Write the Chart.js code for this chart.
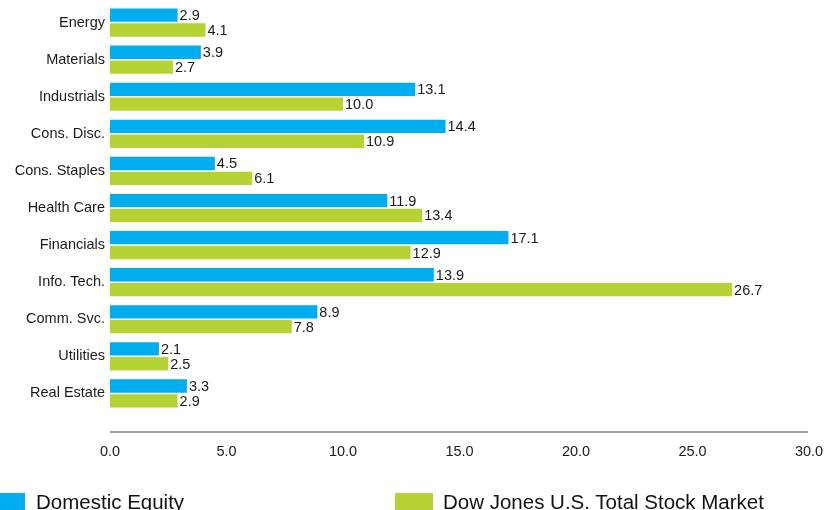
<!DOCTYPE html>
<html>
<head>
<meta charset="utf-8">
<script src="https://cdn.jsdelivr.net/npm/chart.js@4/dist/chart.umd.min.js"></script>
<style>
    html, body { margin: 0; padding: 0; background: #fff; }
    #wrap { position: relative; width: 824px; height: 510px; overflow: hidden; }
    #chart { position: absolute; left: 0; top: 0; }
    .legend-item { position: absolute; top: 490px; font: 20.5px "Liberation Sans", Arial, sans-serif; color: #111; white-space: nowrap; }
    .legend-box { position: absolute; top: 3px; height: 18px; }
</style>
</head>
<body>
<div id="wrap">
    <canvas id="chart" width="824" height="510"></canvas>
    <div class="legend-item" style="left:0px;">
        <span class="legend-box" style="left:-12px;width:37px;background:#00aeef;"></span>
        <span style="position:absolute;left:36px;">Domestic Equity</span>
    </div>
    <div class="legend-item" style="left:395px;">
        <span class="legend-box" style="left:0px;width:38px;background:#b5d334;"></span>
        <span style="position:absolute;left:48px;">Dow Jones U.S. Total Stock Market</span>
    </div>
</div>
<script>
// Chart data
const categories = ['Energy', 'Materials', 'Industrials', 'Cons. Disc.', 'Cons. Staples', 'Health Care',
    'Financials', 'Info. Tech.', 'Comm. Svc.', 'Utilities', 'Real Estate'];
const domesticEquity = [2.9, 3.9, 13.1, 14.4, 4.5, 11.9, 17.1, 13.9, 8.9, 2.1, 3.3];
const dowJonesTotal = [4.1, 2.7, 10.0, 10.9, 6.1, 13.4, 12.9, 26.7, 7.8, 2.5, 2.9];
const seriesNames = ['Domestic Equity', 'Dow Jones U.S. Total Stock Market'];

const FONT = '"Liberation Sans", Arial, sans-serif';

// Value labels at the end of each bar
const valueLabels = {
    id: 'valueLabels',
    afterDatasetsDraw(chart) {
        const ctx = chart.ctx;
        ctx.save();
        ctx.font = '14.5px ' + FONT;
        ctx.fillStyle = '#1a1a1a';
        ctx.textAlign = 'left';
        ctx.textBaseline = 'middle';
        chart.data.datasets.forEach((ds, i) => {
            chart.getDatasetMeta(i).data.forEach((bar, j) => {
                ctx.fillText(ds.data[j].toFixed(1), bar.x + 2, bar.y + 1);
            });
        });
        ctx.restore();
    }
};

// Axis line sits a bit below the last category
const axisLine = {
    id: 'axisLine',
    afterDraw(chart) {
        const ctx = chart.ctx;
        const area = chart.chartArea;
        ctx.save();
        ctx.strokeStyle = '#a6a6a6';
        ctx.lineWidth = 2;
        ctx.beginPath();
        ctx.moveTo(area.left, area.bottom + 20);
        ctx.lineTo(area.right - 1, area.bottom + 20);
        ctx.stroke();
        ctx.restore();
    }
};

const ctx = document.getElementById('chart').getContext('2d');
const myChart = new Chart(ctx, {
    type: 'bar',
    data: {
        labels: categories,
        datasets: [{
            label: seriesNames[0],
            data: domesticEquity,
            backgroundColor: '#00aeef',
            barPercentage: 0.9,
            categoryPercentage: 0.8
        }, {
            label: seriesNames[1],
            data: dowJonesTotal,
            backgroundColor: '#b5d334',
            barPercentage: 0.9,
            categoryPercentage: 0.8
        }]
    },
    options: {
        indexAxis: 'y',
        responsive: false,
        animation: false,
        layout: { padding: { top: 4, right: 0, bottom: 0, left: 0 } },
        plugins: {
            legend: { display: false },
            tooltip: { enabled: false }
        },
        scales: {
            x: {
                min: 0,
                max: 30,
                grid: { display: false, drawTicks: false },
                border: { display: false },
                afterFit: scale => {
                    scale.height = 98;
                    scale.paddingRight = 15;
                },
                ticks: {
                    stepSize: 5,
                    padding: 31,
                    color: '#1a1a1a',
                    font: { family: FONT, size: 14.5 },
                    callback: value => Number(value).toFixed(1)
                }
            },
            y: {
                grid: { display: false, drawTicks: false },
                border: { display: false },
                afterFit: scale => {
                    scale.width = 110;
                    scale.paddingTop = 0;
                    scale.paddingBottom = 0;
                },
                ticks: {
                    padding: 5,
                    color: '#1a1a1a',
                    font: { family: FONT, size: 14.5 }
                }
            }
        }
    },
    plugins: [valueLabels, axisLine]
});
</script>
</body>
</html>
